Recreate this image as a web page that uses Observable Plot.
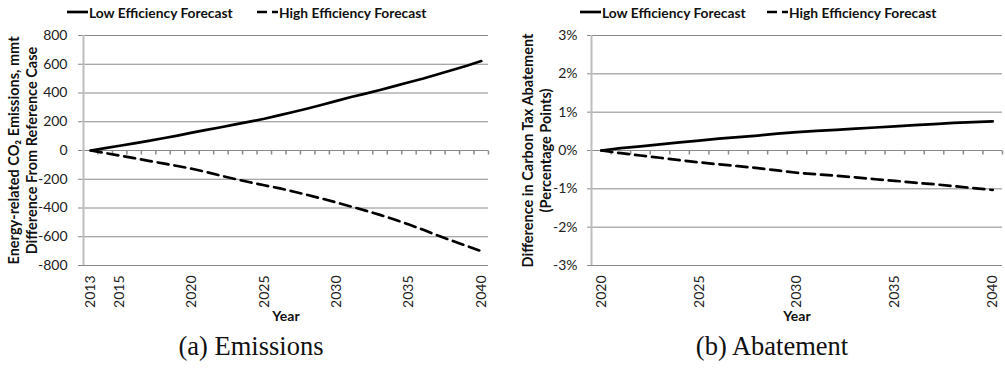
<!DOCTYPE html>
<html>
<head>
<meta charset="utf-8">
<script src="https://cdn.jsdelivr.net/npm/d3@7"></script>
<script src="https://cdn.jsdelivr.net/npm/@observablehq/plot@0.6"></script>
<style>
  body { margin: 0; background: #fff; }
  #wrap { position: relative; width: 1005px; height: 379px; overflow: hidden; font-family: Lato, "Open Sans", sans-serif; color: #111; }
  .lg { position: absolute; top: 3px; height: 18px; display: flex; align-items: center; font-weight: bold; font-size: 13.8px; white-space: nowrap; }
  .lg svg { display: block; margin-right: 1px; }
  .panel { position: absolute; top: 22px; }
  .cap { position: absolute; top: 331px; font-family: "Liberation Serif", "Times New Roman", serif; font-size: 26.5px; transform: translateX(-50%); white-space: nowrap; }
</style>
</head>
<body>
<div id="wrap"></div>
<script>
// Emissions: difference from the reference case, million metric tons CO2
const emissionYears = [2013, 2014, 2015, 2016, 2017, 2018, 2019, 2020, 2021, 2022, 2023, 2024, 2025, 2026,
                       2027, 2028, 2029, 2030, 2031, 2032, 2033, 2034, 2035, 2036, 2037, 2038, 2039, 2040];
const emissionsLow  = [0, 16, 33, 50, 67, 85, 104, 124, 143, 162, 182, 201, 221, 244,
                       268, 292, 318, 345, 372, 396, 421, 448, 475, 501, 530, 560, 590, 622];
const emissionsHigh = [0, -18, -35, -53, -72, -90, -108, -127, -150, -175, -199, -221, -242, -262,
                       -285, -310, -335, -362, -390, -418, -448, -480, -515, -552, -592, -628, -664, -700];
const emissionYTicks = [-800, -600, -400, -200, 0, 200, 400, 600, 800];
const emissionXTicks = [2013, 2015, 2020, 2025, 2030, 2035, 2040];

// Abatement: difference in carbon tax abatement, percentage points
const abatementYears = [2020, 2021, 2022, 2023, 2024, 2025, 2026, 2027, 2028, 2029, 2030,
                        2031, 2032, 2033, 2034, 2035, 2036, 2037, 2038, 2039, 2040];
const abatementLow  = [0, 0.06, 0.11, 0.16, 0.21, 0.26, 0.31, 0.35, 0.39, 0.44, 0.48,
                       0.51, 0.54, 0.57, 0.60, 0.63, 0.66, 0.69, 0.72, 0.74, 0.76];
const abatementHigh = [0, -0.07, -0.13, -0.19, -0.25, -0.31, -0.36, -0.41, -0.46, -0.52, -0.58,
                       -0.62, -0.66, -0.70, -0.75, -0.79, -0.84, -0.88, -0.93, -0.98, -1.03];
const abatementYTicks = [-3, -2, -1, 0, 1, 2, 3];
const abatementXTicks = [2020, 2025, 2030, 2035, 2040];

const seriesNames = ["Low Efficiency Forecast", "High Efficiency Forecast"];

const GRID = "#8a8a8a";
const AXIS = "#bdbdbd";
const DASH = "11,6";
const TICK_FONT = 14;
const TITLE_FONT = 14.5;

// small downward tick drawn at each category boundary on the zero line
const boundaryTick = { draw(ctx) { ctx.moveTo(0, 0); ctx.lineTo(0, 4); } };

function panel(o) {
  const low = o.years.map((y, i) => ({ year: y, value: o.low[i] }));
  const high = o.years.map((y, i) => ({ year: y, value: o.high[i] }));
  const x0 = o.years[0] - 0.5, x1 = o.years[o.years.length - 1] + 0.5;
  const boundaries = o.years.map(y => y + 0.5);
  return Plot.plot({
    width: o.width,
    height: 305,
    marginTop: 13,
    marginBottom: 62,
    marginLeft: o.marginLeft,
    marginRight: o.marginRight,
    style: { fontFamily: "Lato, 'Open Sans', sans-serif", fontSize: TICK_FONT + "px", color: "#222", background: "transparent" },
    x: { domain: [x0, x1] },
    y: { domain: [o.yTicks[0], o.yTicks[o.yTicks.length - 1]] },
    marks: [
      Plot.gridY(o.yTicks, { stroke: GRID, strokeOpacity: 1 }),
      Plot.axisY(o.yTicks, { tickSize: o.tickSize, tickPadding: o.tickPadding, stroke: GRID, tickFormat: o.yFormat, label: null, fontSize: TICK_FONT }),
      Plot.ruleX([x0], { stroke: AXIS, strokeWidth: 2 }),
      Plot.dot(boundaries, { x: d => d, y: () => 0, symbol: boundaryTick, stroke: GRID, fill: "none", r: 4 }),
      Plot.axisX(o.xTicks, { tickSize: 0, tickPadding: 10, tickRotate: -90, tickFormat: d => String(d), label: null, fontSize: TICK_FONT }),
      Plot.text(["Year"], { frameAnchor: "bottom", dy: 55, fontWeight: "bold", fontSize: TICK_FONT, fill: "#111" }),
      Plot.text([o.title], { frameAnchor: "left", dx: o.titleDx, rotate: -90, lineHeight: 1.2, lineAnchor: "middle", textAnchor: "middle", fontWeight: "bold", fontSize: TITLE_FONT, fill: "#111" }),
      Plot.lineY(low, { x: "year", y: "value", stroke: "#000", strokeWidth: 2.7 }),
      Plot.lineY(high, { x: "year", y: "value", stroke: "#000", strokeWidth: 2.7, strokeDasharray: DASH })
    ]
  });
}

const wrap = document.getElementById("wrap");

function addLegend(left, dashed, label) {
  const d = document.createElement("div");
  d.className = "lg";
  d.style.left = left + "px";
  d.innerHTML = `<svg width="21" height="6"><line x1="0" y1="3" x2="21" y2="3" stroke="#000" stroke-width="2.7"${dashed ? ' stroke-dasharray="10,5"' : ""}/></svg><span>${label}</span>`;
  wrap.appendChild(d);
}

function addPanel(left, chart) {
  chart.classList.add("panel");
  chart.style.left = left + "px";
  wrap.appendChild(chart);
}

function addCaption(center, text) {
  const c = document.createElement("div");
  c.className = "cap";
  c.style.left = center + "px";
  c.textContent = text;
  wrap.appendChild(c);
}

addPanel(0, panel({
  years: emissionYears, low: emissionsLow, high: emissionsHigh,
  yTicks: emissionYTicks, xTicks: emissionXTicks, yFormat: d => String(d),
  width: 500, marginLeft: 83, marginRight: 12, tickSize: 5, tickPadding: 11,
  title: "Energy-related CO\u2082 Emissions, mmt\nDifference From Reference Case", titleDx: -61
}));
addPanel(500, panel({
  years: abatementYears, low: abatementLow, high: abatementHigh,
  yTicks: abatementYTicks, xTicks: abatementXTicks, yFormat: d => d + "%",
  width: 505, marginLeft: 91, marginRight: 3, tickSize: 4, tickPadding: 10,
  title: "Difference in Carbon Tax Abatement\n(Percentage Points)", titleDx: -55
}));

addLegend(67, false, seriesNames[0]);
addLegend(257, true, seriesNames[1]);
addLegend(580, false, seriesNames[0]);
addLegend(767, true, seriesNames[1]);

addCaption(251, "(a) Emissions");
addCaption(772, "(b) Abatement");
</script>
</body>
</html>
